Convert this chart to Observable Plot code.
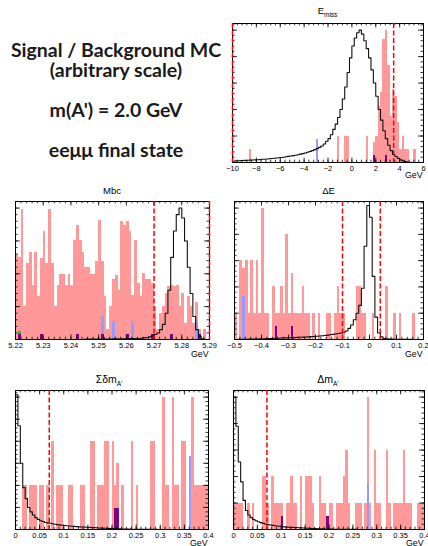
<!DOCTYPE html>
<html><head><meta charset="utf-8">
<script src="https://cdn.jsdelivr.net/npm/d3@7"></script>
<script src="https://cdn.jsdelivr.net/npm/@observablehq/plot@0.6"></script>
<style>
html,body{margin:0;padding:0;background:#fff;}
#root{position:relative;width:428px;height:546px;overflow:hidden;background:#fff;}
#root svg{position:absolute;}
</style></head><body><div id="root"></div>
<script>
// ================= DATA =================
const headingLines = ["Signal / Background MC", "(arbitrary scale)", "m(A') = 2.0 GeV", "eeμμ final state"];

// ---- E_miss ----
const emissRange = [-10, 6];
const emissBinWidth = 0.2;
const emissBkg = [0,0,0,0,0,0,0,1,0,0, 0,0,0,0,0,0,0,0,0,0, 0,0,0,0,0,0,0,0,0,0, 0,0,0,0,0,0,0,0,0,0,
  0,0,0,0,2,0,0,2,2,0, 0,0,0,0,0,0,2,0,0,1.5, 2,4.2,5.3,9.3,10,7.3,3.5,5.5,5.0,3.0, 1,2,1,1,0,0,1,0,0,0];
const emissSig = [0.1,0.12,0.13,0.14,0.15,0.16,0.17,0.18,0.19,0.2, 0.21,0.22,0.24,0.25,0.27,0.28,0.3,0.32,0.34,0.36,
  0.38,0.4,0.43,0.46,0.49,0.52,0.55,0.59,0.63,0.67, 0.72,0.77,0.83,0.9,0.97,1.05,1.14,1.25,1.4,1.6,
  1.8,2.1,2.5,2.9,3.4,4.0,4.8,5.7,6.8,7.9, 8.8,9.4,9.8,10.0,9.7,9.2,8.6,7.9,7.0,6.0,
  5.0,4.0,3.2,2.4,1.8,1.3,0.9,0.6,0.45,0.3, 0.2,0.12,0.07,0.04,0.02,0,0,0,0,0];
const emissBlueX = [-3.0], emissBlueY = [1.76];
const emissPurpleX = [1.8, 2.8], emissPurpleY = [0.5, 0.5];
const emissCuts = [-10, 3.5];
const emissTicks = [-10, -8, -6, -4, -2, 0, 2, 4, 6];
const emissYMax = 10.5;

// ---- Mbc ----
const mbcRange = [5.22, 5.29];
const mbcBinWidth = 0.001;
const mbcBkg = [13.0,12.5,19.8,5.0,11.5,13.3,8.2,13.3,6.5,12.3, 16.5,11.5,19.8,11.5,5.0,8.2,9.9,9.9,8.2,9.9,
  8.2,15.0,17.3,15.0,13.3,11.0,11.0,9.9,9.9,11.8, 18.1,11.8,6.5,1.5,5.0,9.2,9.7,7.5,18.0,17.3,
  18.0,16.5,6.7,15.0,8.5,6.5,10.0,9.2,9.2,8.5, 5.0,1.5,4.0,5.0,7.0,8.0,8.2,8.0,8.2,5.0,
  7.0,2.5,6.5,5.0,2.5,5.7,1.5,0,1.5,0];
const mbcSig = [0,0,0,0,0,0,0,0,0,0, 0,0,0,0,0,0,0,0,0,0, 0,0,0,0,0,0.05,0.05,0.05,0.05,0.05,
  0.05,0.05,0.05,0.05,0.05,0.1,0.1,0.1,0.1,0.1, 0.1,0.15,0.15,0.15,0.15,0.2,0.25,0.3,0.4,0.55,
  0.75,1.0,1.5,2.3,4.0,7.5,12.5,16.5,19.0,20.0, 18.5,15.0,11.0,7.0,3.5,1.5,0.5,0.1,0,0];
const mbcBlueX = [5.251, 5.255, 5.262, 5.285], mbcBlueY = [3.5, 2.7, 2.7, 2.7];
const mbcGreenX = [5.221], mbcGreenY = [1.15];
const mbcPurpleX = [5.221, 5.229, 5.242, 5.251, 5.260, 5.269, 5.276, 5.286];
const mbcPurpleY = [0.8, 0.8, 0.8, 0.8, 0.8, 0.8, 0.8, 0.8];
const mbcCuts = [5.27, 5.29];
const mbcTicks = [5.22, 5.23, 5.24, 5.25, 5.26, 5.27, 5.28, 5.29];
const mbcYMax = 21;

// ---- Delta E ----
const deRange = [-0.5, 0.2];
const deBinWidth = 0.01;
const deBkg = [2,0,6,5.4,6,2,6,2,6,2, 10,2,2,0,4,2,2,4,2,8, 2,5,2,2,2,4,2,2,0,2, 0,2,0,0,2,2,0,2,4,2,
  2,0,0,0,0,4,4,2,2,0, 0,2,0,0,0,0,4,0,0,2, 0,2,0,0,0,0,2,0,0,0];
const deSig = [0,0.01,0.01,0.02,0.02,0.03,0.03,0.04,0.04,0.05, 0.05,0.06,0.07,0.08,0.08,0.09,0.1,0.11,0.12,0.12,
  0.13,0.14,0.15,0.16,0.17,0.18,0.19,0.2,0.22,0.23, 0.25,0.27,0.29,0.31,0.33,0.36,0.39,0.42,0.46,0.5,
  0.55,0.65,0.85,1.1,1.5,2.0,2.6,3.9,7.1,10.2, 9.3,4.8,1.7,0.5,0.2,0.08,0.05,0.04,0.03,0.02,
  0.02,0.01,0.01,0.01,0.01,0.01,0,0,0,0];
const deBlueX = [-0.47], deBlueY = [3.3];
const dePurpleX = [-0.35, -0.29], dePurpleY = [1.0, 1.0];
const deCuts = [-0.1, 0.04];
const deTicks = [-0.5, -0.4, -0.3, -0.2, -0.1, 0, 0.1, 0.2];
const deYMax = 10.5;

// ---- Sum delta m_A' ----
const sdmRange = [0, 0.4];
const sdmBinWidth = 0.005;
const sdmBkg = [0,0,0,1,1,0,1,1,1,0, 1,1,0,1,0,2,0,1,1,1, 0,0,1,1,0,0,0,1,1,0, 0,2,2,0,1,1,1,2,2,0,
  2,1,1.5,0,1,0,0,0,2,0, 1,0,0,0,0,0,2,2,0,0, 0,3,1,1,0,3,1,1,0,2, 2,0,0,3,1,1,1,1,1,1];
const sdmSig = [3.05,2.35,1.5,0.95,0.7,0.5,0.4,0.33,0.27,0.23, 0.2,0.18,0.16,0.15,0.14,0.13,0.12,0.11,0.1,0.095,
  0.09,0.085,0.08,0.075,0.07,0.065,0.06,0.058,0.055,0.052, 0.05,0.046,0.042,0.038,0.035,0.032,0.03,0.028,0.026,0.024,
  0.02,0.018,0.016,0.014,0.012,0.01,0.009,0.008,0.007,0.006, 0.005,0.005,0.004,0.004,0.003,0.003,0.002,0.002,0.002,0.001,
  0.001,0.001,0.001,0,0,0,0,0,0,0, 0,0,0,0,0,0,0,0,0,0];
const sdmBlueX = [0.36], sdmBlueY = [1.66];
const sdmPurpleX = [0.205, 0.21], sdmPurpleY = [0.48, 0.48];
const sdmCuts = [0.07];
const sdmTicks = [0, 0.05, 0.1, 0.15, 0.2, 0.25, 0.3, 0.35, 0.4];
const sdmYMax = 3.15;

// ---- Delta m_A' ----
const dmRange = [0, 0.4];
const dmBinWidth = 0.005;
const dmBkg = [1,1,1,1,0,0,1,0,1,0, 0,0,2,2,1,0,2,1,1,1, 1,0,1,1,2,1,1,0,2,0, 2,2,2,1,0,0,2,1,1,0,
  1,1,0,1,1,1,2,3,1,0, 0,1,1,1,0,1,5,1,0,3, 1,1,0,0,3,1,0,1,1,1, 1,3,1,1,1,0,0,1,1,1];
const dmSig = [5.0,3.9,2.55,1.8,1.1,0.72,0.55,0.45,0.38,0.33, 0.29,0.26,0.23,0.21,0.19,0.17,0.155,0.14,0.13,0.12,
  0.11,0.1,0.09,0.085,0.08,0.075,0.07,0.065,0.06,0.055, 0.05,0.045,0.04,0.036,0.032,0.028,0.025,0.022,0.02,0.018,
  0.016,0.014,0.012,0.01,0.009,0.008,0.007,0.006,0.005,0.004, 0.003,0.003,0.002,0.002,0.001,0.001,0,0,0,0,
  0,0,0,0,0,0,0,0,0,0, 0,0,0,0,0,0,0,0,0,0];
const dmBlueX = [0.28], dmBlueY = [1.75];
const dmPurpleX = [0.1, 0.195], dmPurpleY = [0.5, 0.5];
const dmCuts = [0.07];
const dmTicks = [0, 0.05, 0.1, 0.15, 0.2, 0.25, 0.3, 0.35, 0.4];
const dmYMax = 5.25;

// ================= STYLE / LAYOUT =================
const COL = {bkg: "#ff9999", blue: "#9999ff", purple: "#800080", green: "#22bb22", sig: "#111", cut: "#ff0000"};
const FONT = "'Liberation Sans', Arial, Helvetica, sans-serif";

const panels = [
  {title: ["E", "miss"], tsize: 9.5, tx: 327.5, ty: 14, svg: [214, 0], box: {left: 232, right: 423, top: 23, bottom: 162}, gev: 15.5,
   range: emissRange, bw: emissBinWidth, bkg: emissBkg, sig: emissSig, blue: [emissBlueX, emissBlueY], purple: [emissPurpleX, emissPurpleY], green: [[], []],
   cuts: emissCuts, ticks: emissTicks, ymax: emissYMax, xMinor: 0.4, yMajor: 2, yMinor: 0.4},
  {title: ["Mbc", ""], tsize: 9.5, tx: 112, ty: 194, svg: [0, 182], box: {left: 15, right: 209, top: 201, bottom: 339}, gev: 17.5,
   range: mbcRange, bw: mbcBinWidth, bkg: mbcBkg, sig: mbcSig, blue: [mbcBlueX, mbcBlueY], purple: [mbcPurpleX, mbcPurpleY], green: [mbcGreenX, mbcGreenY],
   cuts: mbcCuts, ticks: mbcTicks, ymax: mbcYMax, xMinor: 0.002, yMajor: 5, yMinor: 1},
  {title: ["ΔE", ""], tsize: 9.5, tx: 328.5, ty: 194, svg: [214, 182], box: {left: 234, right: 423, top: 201, bottom: 339}, gev: 17.5,
   range: deRange, bw: deBinWidth, bkg: deBkg, sig: deSig, blue: [deBlueX, deBlueY], purple: [dePurpleX, dePurpleY], green: [[], []],
   cuts: deCuts, ticks: deTicks, ymax: deYMax, xMinor: 0.02, yMajor: 2, yMinor: 0.4},
  {title: ["Σδm", "A'"], tsize: 10.5, tx: 109, ty: 383, svg: [0, 364], box: {left: 15, right: 208, top: 390, bottom: 529}, gev: 16,
   range: sdmRange, bw: sdmBinWidth, bkg: sdmBkg, sig: sdmSig, blue: [sdmBlueX, sdmBlueY], purple: [sdmPurpleX, sdmPurpleY], green: [[], []],
   cuts: sdmCuts, ticks: sdmTicks, ymax: sdmYMax, xMinor: 0.01, yMajor: 0.5, yMinor: 0.1},
  {title: ["Δm", "A'"], tsize: 10.5, tx: 328, ty: 383, svg: [214, 364], box: {left: 233, right: 424, top: 390, bottom: 529}, gev: 16,
   range: dmRange, bw: dmBinWidth, bkg: dmBkg, sig: dmSig, blue: [dmBlueX, dmBlueY], purple: [dmPurpleX, dmPurpleY], green: [[], []],
   cuts: dmCuts, ticks: dmTicks, ymax: dmYMax, xMinor: 0.01, yMajor: 1, yMinor: 0.2}
];

const SW = 214, SH = 182;
const root = document.getElementById("root");

function steps(lo, hi, step) {
  const n = Math.round((hi - lo) / step);
  return d3.range(n + 1).map(i => lo + i * step);
}

for (const p of panels) {
  const [lo, hi] = p.range, bw = p.bw, ymax = p.ymax, b = p.box;
  const fw = b.right - b.left, fh = b.bottom - b.top;
  const hist = p.bkg.map((v, i) => ({x1: lo + i * bw, x2: lo + (i + 1) * bw, y: v})).filter(d => d.y > 0);
  const extra = ([X, Y]) => X.map((x, i) => ({x1: x, x2: x + bw, y: Y[i]}));
  const line = [{x: lo, y: 0}, ...p.sig.map((v, i) => ({x: lo + i * bw, y: v})), {x: hi, y: p.sig[p.sig.length - 1]}, {x: hi, y: 0}];
  const xMaj = p.ticks, xMin = steps(lo, hi, p.xMinor);
  const yMaj = steps(0, Math.floor(ymax / p.yMajor + 1e-9) * p.yMajor, p.yMajor);
  const yMin = steps(0, Math.floor(ymax / p.yMinor + 1e-9) * p.yMinor, p.yMinor);
  const tx = L => ymax * L / fh;       // x-tick length in y units
  const ty = L => (hi - lo) * L / fw;  // y-tick length in x units
  const tk = {stroke: "#000", strokeWidth: 0.8};

  const chart = Plot.plot({
    width: SW, height: SH,
    marginLeft: b.left - p.svg[0], marginRight: p.svg[0] + SW - b.right,
    marginTop: b.top - p.svg[1], marginBottom: p.svg[1] + SH - b.bottom,
    style: {background: "transparent", overflow: "visible", fontFamily: FONT, color: "#000"},
    x: {domain: [lo, hi]},
    y: {domain: [0, ymax], axis: null},
    marks: [
      Plot.rectY(hist, {x1: "x1", x2: "x2", y: "y", fill: COL.bkg, shapeRendering: "crispEdges"}),
      Plot.rectY(extra(p.green), {x1: "x1", x2: "x2", y: "y", fill: COL.green, shapeRendering: "crispEdges"}),
      Plot.rectY(extra(p.blue), {x1: "x1", x2: "x2", y: "y", fill: COL.blue, shapeRendering: "crispEdges"}),
      Plot.rectY(extra(p.purple), {x1: "x1", x2: "x2", y: "y", fill: COL.purple, shapeRendering: "crispEdges"}),
      Plot.line(line, {x: "x", y: "y", curve: "step-after", stroke: COL.sig, strokeWidth: 1.1}),
      Plot.frame({stroke: "#000", strokeWidth: 1}),
      Plot.ruleX(xMaj, {y1: 0, y2: tx(4.5), ...tk}),
      Plot.ruleX(xMin, {y1: 0, y2: tx(2.3), ...tk}),
      Plot.ruleX(xMaj, {y1: ymax, y2: ymax - tx(4.5), ...tk}),
      Plot.ruleX(xMin, {y1: ymax, y2: ymax - tx(2.3), ...tk}),
      Plot.ruleY(yMaj, {x1: lo, x2: lo + ty(5), ...tk}),
      Plot.ruleY(yMin, {x1: lo, x2: lo + ty(2.5), ...tk}),
      Plot.ruleY(yMaj, {x1: hi, x2: hi - ty(5), ...tk}),
      Plot.ruleY(yMin, {x1: hi, x2: hi - ty(2.5), ...tk}),
      Plot.ruleX(p.cuts, {stroke: COL.cut, strokeWidth: 1.5, strokeDasharray: "5,2.5"}),
      Plot.axisX({ticks: xMaj, tickSize: 0, tickPadding: 3.2, fontSize: 7.5, tickFormat: d3.format("~g")}),
      Plot.text(["GeV"], {text: d => d, frameAnchor: "bottom-right", dy: p.gev, dx: -1, textAnchor: "end", lineAnchor: "bottom", fontSize: 8.8})
    ]
  });
  chart.style.left = p.svg[0] + "px";
  chart.style.top = p.svg[1] + "px";
  root.appendChild(chart);
}

// ---- text overlay: heading and panel titles ----
const ov = d3.select(root).append("svg").attr("width", 428).attr("height", 546)
  .style("left", "0px").style("top", "0px").style("pointer-events", "none");
const headY = [57, 76.5, 117, 157];
ov.selectAll("text.head").data(headingLines).join("text")
  .attr("x", 116).attr("y", (d, i) => headY[i])
  .attr("text-anchor", "middle").attr("font-family", "Lato, 'Noto Sans', sans-serif")
  .attr("font-weight", 700).attr("font-size", 19.5).attr("fill", "#1a1a1a").text(d => d);

for (const p of panels) {
  const t = ov.append("text").attr("x", p.tx).attr("y", p.ty).attr("text-anchor", "middle")
    .attr("font-family", FONT).attr("font-size", p.tsize).attr("fill", "#000");
  t.append("tspan").text(p.title[0]);
  if (p.title[1]) t.append("tspan").attr("font-size", 6.5).attr("dy", 2.5).text(p.title[1]);
}
</script></body></html>
